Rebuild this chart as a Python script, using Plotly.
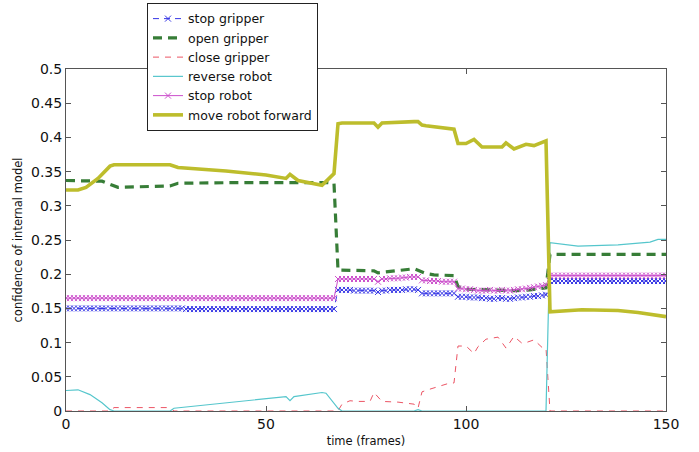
import plotly.graph_objects as go

# Frame index shared by the per-frame series
frames = list(range(151))

# Per-frame confidence of the "stop gripper" model
stop_gripper = [
    0.150, 0.150, 0.150, 0.150, 0.150, 0.150, 0.150, 0.150, 0.150, 0.150,
    0.150, 0.150, 0.150, 0.150, 0.150, 0.150, 0.150, 0.150, 0.150, 0.150,
    0.150, 0.150, 0.150, 0.150, 0.150, 0.150, 0.150, 0.150, 0.150, 0.150,
    0.149, 0.149, 0.149, 0.149, 0.149, 0.149, 0.149, 0.149, 0.149, 0.149,
    0.149, 0.149, 0.149, 0.149, 0.149, 0.149, 0.149, 0.149, 0.149, 0.149,
    0.149, 0.149, 0.149, 0.149, 0.149, 0.149, 0.149, 0.149, 0.149, 0.149,
    0.149, 0.149, 0.149, 0.149, 0.149, 0.149, 0.149, 0.149,
    0.177, 0.177, 0.177, 0.177, 0.176, 0.176, 0.176, 0.176, 0.176, 0.176,
    0.174,
    0.176, 0.176, 0.177, 0.177, 0.177, 0.177, 0.178, 0.178, 0.178, 0.177,
    0.172, 0.172, 0.172, 0.172, 0.172, 0.172, 0.172, 0.172, 0.172,
    0.167, 0.167, 0.167, 0.166, 0.166, 0.166, 0.165,
    0.165, 0.164, 0.164, 0.165, 0.165, 0.164, 0.164, 0.165, 0.166,
    0.166, 0.167, 0.167, 0.168, 0.168, 0.169, 0.170,
    0.190, 0.190, 0.190, 0.190, 0.190, 0.190, 0.190, 0.190, 0.190, 0.190,
    0.190, 0.190, 0.190, 0.190, 0.190, 0.190, 0.190, 0.190, 0.190, 0.190,
    0.190, 0.190, 0.190, 0.190, 0.190, 0.190, 0.190, 0.190, 0.190, 0.190,
]

# Per-frame confidence of the "stop robot" model
stop_robot = [
    0.165, 0.165, 0.165, 0.165, 0.165, 0.165, 0.165, 0.165, 0.165, 0.165,
    0.165, 0.165, 0.165, 0.165, 0.165, 0.165, 0.165, 0.165, 0.165, 0.165,
    0.165, 0.165, 0.165, 0.165, 0.165, 0.165, 0.165, 0.165, 0.165, 0.165,
    0.165, 0.165, 0.165, 0.165, 0.165, 0.165, 0.165, 0.165, 0.165, 0.165,
    0.165, 0.165, 0.165, 0.165, 0.165, 0.165, 0.165, 0.165, 0.165, 0.165,
    0.165, 0.165, 0.165, 0.165, 0.165, 0.165, 0.165, 0.165, 0.165, 0.165,
    0.165, 0.165, 0.165, 0.165, 0.165, 0.165, 0.165, 0.165,
    0.193, 0.193, 0.193, 0.193, 0.193, 0.193, 0.193, 0.193, 0.193, 0.193,
    0.189,
    0.193, 0.193, 0.194, 0.194, 0.194, 0.195, 0.195, 0.196, 0.196, 0.196,
    0.191, 0.191, 0.190, 0.190, 0.190, 0.189, 0.189, 0.189, 0.189,
    0.179, 0.179, 0.178, 0.178, 0.177, 0.176, 0.176, 0.176, 0.177, 0.176,
    0.176, 0.177, 0.176, 0.176, 0.177, 0.178, 0.178, 0.179, 0.180, 0.181,
    0.182, 0.183, 0.184,
    0.198, 0.198, 0.198, 0.198, 0.198, 0.198, 0.198, 0.198, 0.198, 0.198,
    0.198, 0.198, 0.198, 0.198, 0.198, 0.198, 0.198, 0.198, 0.198, 0.198,
    0.198, 0.198, 0.198, 0.198, 0.198, 0.198, 0.198, 0.198, 0.198, 0.198,
]

# "open gripper" confidence at its turning points
open_gripper_t = [0, 9, 13, 20, 26, 28, 45, 65, 67, 68, 77, 78, 87, 90, 92,
                  97, 98, 100, 104, 108, 112, 116, 120, 121, 150]
open_gripper = [0.337, 0.336, 0.327, 0.328, 0.329, 0.333, 0.334, 0.334, 0.333,
                0.206, 0.205, 0.202, 0.208, 0.201, 0.199, 0.198, 0.182, 0.178,
                0.177, 0.176, 0.176, 0.177, 0.180, 0.229, 0.229]

# "close gripper" confidence at its turning points
close_gripper_t = [0, 11, 12, 26, 27, 68, 69, 71, 73, 76, 77, 79, 83, 86, 87,
                   88, 89, 91, 93, 96, 97, 98, 100, 102, 103, 105, 108, 110,
                   112, 114, 115, 117, 119, 120, 121, 150]
close_gripper = [0.0, 0.0, 0.005, 0.005, 0.0, 0.0, 0.010, 0.015, 0.014, 0.014,
                 0.027, 0.014, 0.013, 0.011, 0.010, 0.004, 0.028, 0.032, 0.036,
                 0.041, 0.041, 0.095, 0.095, 0.084, 0.094, 0.105, 0.108, 0.092,
                 0.109, 0.099, 0.100, 0.104, 0.093, 0.092, 0.0, 0.0]

# "reverse robot" confidence at its turning points
reverse_robot_t = [0, 3, 6, 9, 11, 12, 26, 27, 55, 56, 57, 60, 64, 65, 68, 69,
                   87, 88, 89, 120, 121, 128, 138, 146, 148, 150]
reverse_robot = [0.030, 0.031, 0.024, 0.012, 0.002, 0.0, 0.0, 0.004, 0.021,
                 0.015, 0.021, 0.024, 0.027, 0.026, 0.004, 0.0, 0.0, 0.002, 0.0,
                 0.0, 0.246, 0.241, 0.243, 0.247, 0.251, 0.251]

# "move robot forward" confidence at its turning points
move_forward_t = [0, 3, 5, 8, 11, 12, 26, 28, 40, 50, 55, 56, 58, 62, 64, 67,
                  68, 69, 77, 78, 79, 87, 88, 89, 90, 97, 98, 100, 102, 104,
                  109, 110, 112, 115, 117, 120, 121, 129, 138, 143, 150]
move_forward = [0.323, 0.323, 0.327, 0.340, 0.358, 0.360, 0.360, 0.356, 0.351,
                0.345, 0.340, 0.346, 0.337, 0.333, 0.330, 0.347, 0.420, 0.421,
                0.421, 0.415, 0.421, 0.423, 0.423, 0.418, 0.417, 0.412, 0.391,
                0.391, 0.397, 0.386, 0.386, 0.392, 0.383, 0.390, 0.388, 0.395,
                0.145, 0.148, 0.147, 0.144, 0.138]

y_ticks = [0, 0.05, 0.1, 0.15, 0.2, 0.25, 0.3, 0.35, 0.4, 0.45, 0.5]
x_ticks = [0, 50, 100, 150]

FONT = "DejaVu Sans"
AXIS_COLOR = "#555555"

fig = go.Figure()

fig.add_trace(go.Scatter(
    x=frames, y=stop_gripper, name="stop gripper", mode="lines+markers",
    line=dict(color="#3535e6", width=1, dash="6px,5px"),
    marker=dict(symbol="x-thin", size=6, line=dict(color="#3535e6", width=1)),
))
fig.add_trace(go.Scatter(
    x=open_gripper_t, y=open_gripper, name="open gripper", mode="lines",
    line=dict(color="#377d37", width=3.2, dash="9px,6px"),
))
fig.add_trace(go.Scatter(
    x=close_gripper_t, y=close_gripper, name="close gripper", mode="lines",
    line=dict(color="#ec5565", width=1, dash="6px,6px"),
))
fig.add_trace(go.Scatter(
    x=reverse_robot_t, y=reverse_robot, name="reverse robot", mode="lines",
    line=dict(color="#55c6cc", width=1.2),
))
fig.add_trace(go.Scatter(
    x=frames, y=stop_robot, name="stop robot", mode="lines+markers",
    line=dict(color="#cc4fcc", width=1),
    marker=dict(symbol="x-thin", size=6, line=dict(color="#cc4fcc", width=1)),
))
fig.add_trace(go.Scatter(
    x=move_forward_t, y=move_forward, name="move robot forward", mode="lines",
    line=dict(color="#bdbd2c", width=3.6),
))

axis_common = dict(
    showline=True, linecolor=AXIS_COLOR, linewidth=1, mirror="ticks",
    ticks="inside", ticklen=5, tickcolor=AXIS_COLOR, tickwidth=1,
    showgrid=False, zeroline=False,
    tickfont=dict(family=FONT, size=14, color="#111111"),
)

fig.update_xaxes(
    range=[0, 150], tickvals=x_ticks, ticktext=[str(v) for v in x_ticks],
    title=dict(text="time (frames)", font=dict(family=FONT, size=11.5, color="#111111"),
               standoff=6),
    **axis_common,
)
fig.update_yaxes(
    range=[0, 0.5], tickvals=y_ticks, ticktext=[f"{v:g}" for v in y_ticks],
    title=dict(text="confidence of internal model",
               font=dict(family=FONT, size=11.5, color="#111111"), standoff=6),
    **axis_common,
)

fig.update_layout(
    width=699, height=452,
    margin=dict(l=66, r=33, t=69, b=41, autoexpand=False),
    paper_bgcolor="white", plot_bgcolor="white",
    font=dict(family=FONT, color="#111111"),
    legend=dict(
        x=0.135, y=1.193, xanchor="left", yanchor="top",
        bgcolor="white", bordercolor="#222222", borderwidth=1,
        font=dict(family=FONT, size=12.5, color="#111111"),
        tracegroupgap=0,
    ),
)

fig.write_html("out.html")
